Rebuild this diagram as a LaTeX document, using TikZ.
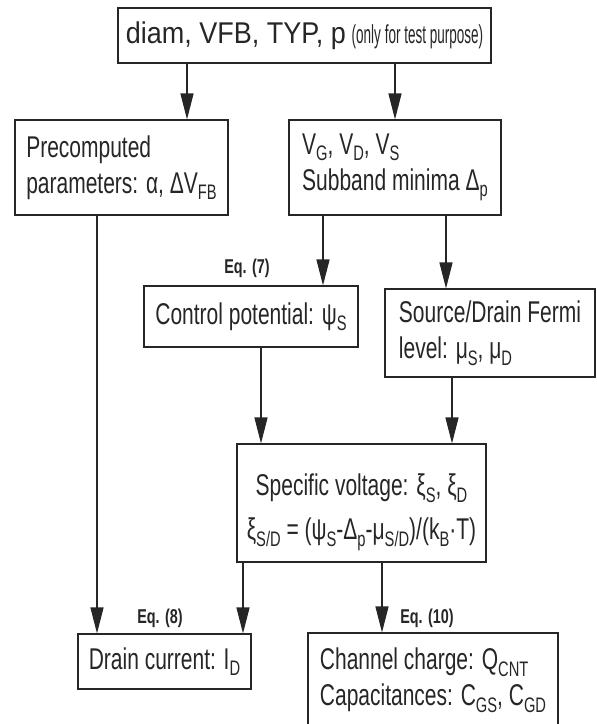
\documentclass[tikz,border=0pt]{standalone}
\usepackage{fontspec}
\setmainfont[FakeStretch=0.7]{Liberation Sans}
\newfontfamily\widefont[FakeStretch=0.9]{Liberation Sans}
\newfontfamily\narrowfont[FakeStretch=0.52]{Liberation Sans}
\newfontfamily\eqfont[FakeStretch=0.72]{Liberation Sans}
\usetikzlibrary{arrows.meta}
\newcommand\sbs[1]{\raisebox{-6.5pt}{\fontsize{21}{21}\selectfont #1}}

\begin{document}
\begin{tikzpicture}[x=1pt,y=-1pt,
    box/.style={draw=black!85,line width=1.1pt,align=left,inner sep=0pt,
      text=black!85,font=\fontsize{30}{36}\selectfont},
    arr/.style={-{Triangle[length=26pt,width=13pt]},line width=1.2pt,draw=black!85},
    eqlbl/.style={text=black!85,font=\eqfont\bfseries\fontsize{20}{20}\selectfont}]
    \useasboundingbox (0,0) rectangle (597,724);
    \node[box,minimum width=373pt,minimum height=55pt] (top) at (304.5,35.5)
      {{\widefont diam, VFB, TYP, p} {\narrowfont\fontsize{26}{26}\selectfont(only for test purpose)}};
    \node[box,minimum width=213pt,minimum height=95pt] (pre) at (121.5,167.5)
      {Precomputed\\parameters: α, ΔV\sbs{FB}};
    \node[box,minimum width=212pt,minimum height=95pt] (volt) at (395,167.5)
      {V\sbs{G}, V\sbs{D}, V\sbs{S}\\Subband minima Δ\sbs{p}};
    \node[box,minimum width=214pt,minimum height=61pt] (ctrl) at (251,316.5)
      {Control potential: ψ\sbs{S}};
    \node[box,minimum width=210pt,minimum height=88pt] (fermi) at (490,333)
      {Source/Drain Fermi\\level: μ\sbs{S}, μ\sbs{D}};
    \node[box,align=center,minimum width=249pt,minimum height=118pt] (spec) at (361.5,503)
      {\rule{0pt}{40pt}Specific voltage: ξ\sbs{S}, ξ\sbs{D}\\[8pt]ξ\sbs{S/D} = (ψ\sbs{S}-Δ\sbs{p}-μ\sbs{S/D})/(k\sbs{B}·T)};
    \node[box,minimum width=173pt,minimum height=55pt] (drain) at (164.5,661.5)
      {Drain current: I\sbs{D}};
    \node[box,minimum width=250pt,minimum height=94pt] (chan) at (433,680)
      {Channel charge: Q\sbs{CNT}\\Capacitances: C\sbs{GS}, C\sbs{GD}};
    \node[eqlbl] (eq7) at (247,268) {Eq. (7)};
    \node[eqlbl] (eq8) at (160,618) {Eq. (8)};
    \node[eqlbl] (eq10) at (427,618) {Eq. (10)};
    \draw[arr] (top.south -| 187,0) -- (pre.north -| 187,0);
    \draw[arr] (top.south -| 395,0) -- (volt.north -| 395,0);
    \draw[arr] (pre.south -| 97,0) -- (drain.north -| 97,0);
    \draw[arr] (volt.south -| 323,0) -- (ctrl.north -| 323,0);
    \draw[arr] (volt.south -| 446,0) -- (fermi.north -| 446,0);
    \draw[arr] (ctrl.south -| 261,0) -- (spec.north -| 261,0);
    \draw[arr] (fermi.south -| 452,0) -- (spec.north -| 452,0);
    \draw[arr] (spec.south -| 243,0) -- (drain.north -| 243,0);
    \draw[arr] (spec.south -| 382,0) -- (chan.north -| 382,0);
\end{tikzpicture}
\end{document}
